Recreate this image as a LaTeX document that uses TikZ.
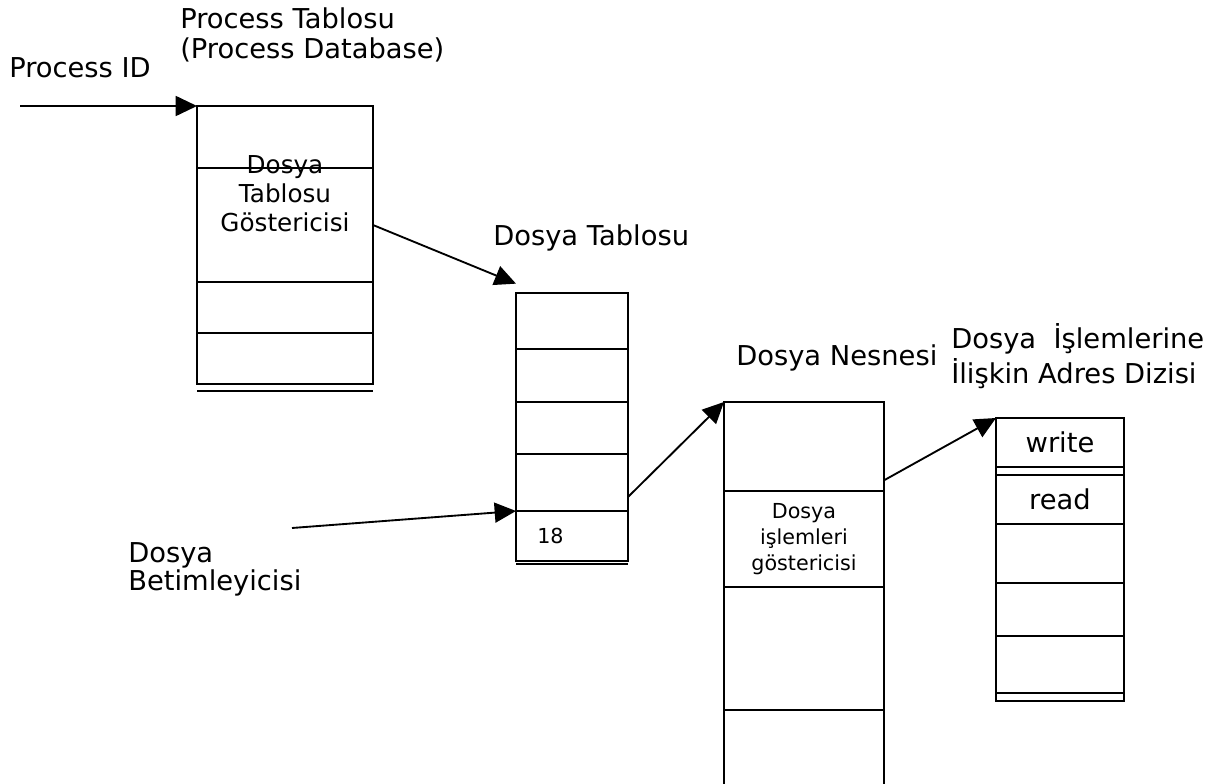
\documentclass[tikz,border=0pt]{standalone}
\usepackage{fontspec}
\setmainfont{DejaVu Sans}
\usepackage{tikz}
\usetikzlibrary{arrows.meta,positioning}
\newcommand{\lblfnt}{\fontsize{20.5}{22.5}\selectfont}
\newcommand{\boxfnt}{\fontsize{18.5}{21.75}\selectfont}
\newcommand{\smlfnt}{\fontsize{15.5}{19.5}\selectfont}
\tikzstyle{plaintext} = [draw=none, fill=none, inner sep=0pt, font=\lblfnt]
\tikzstyle{cell} = [draw, line width=1.5pt, inner sep=0pt, outer sep=0pt, font=\lblfnt, align=center]
\tikzstyle{ptredge} = [draw, line width=1.4pt, -{Triangle[length=16pt, width=15pt]}]

\begin{document}
\begin{tikzpicture}[x=0.75pt, y=-0.75pt]
\useasboundingbox (0,0) rectangle (1218,784);

\node[cell, minimum width=132pt, minimum height=46.5pt, anchor=north west] (proc1) at (197,106) {};
\node[cell, minimum width=132pt, minimum height=85.5pt, below=0pt of proc1] (proc2) {};
\node[cell, minimum width=132pt, minimum height=38.25pt, below=0pt of proc2] (proc3) {};
\node[cell, minimum width=132pt, minimum height=38.25pt, below=0pt of proc3] (proc4) {};
\draw[line width=1.5pt] ([yshift=-5.25pt]proc4.south west) -- ([yshift=-5.25pt]proc4.south east);
\node[plaintext, font=\boxfnt, align=center, anchor=base] (procptr) at (285,232) {Dosya\\Tablosu\\Göstericisi};

\node[cell, minimum width=84pt, minimum height=42pt, anchor=north west] (ftab1) at (516,293) {};
\node[cell, minimum width=84pt, minimum height=39.75pt, below=0pt of ftab1] (ftab2) {};
\node[cell, minimum width=84pt, minimum height=39pt, below=0pt of ftab2] (ftab3) {};
\node[cell, minimum width=84pt, minimum height=42.75pt, below=0pt of ftab3] (ftab4) {};
\node[cell, minimum width=84pt, minimum height=37.5pt, below=0pt of ftab4] (ftab5) {};
\draw[line width=1.5pt] ([yshift=-2pt]ftab5.south west) -- ([yshift=-2pt]ftab5.south east);
\node[plaintext, font=\smlfnt, anchor=base west] (num18) at (537,543) {18};

\node[cell, minimum width=120pt, minimum height=66.75pt, anchor=north west] (obj1) at (724,402) {};
\node[cell, minimum width=120pt, minimum height=72pt, font=\smlfnt, below=0pt of obj1] (obj2) {Dosya\\işlemleri\\göstericisi};
\node[cell, minimum width=120pt, minimum height=92.25pt, below=0pt of obj2] (obj3) {};
\node[cell, minimum width=120pt, minimum height=75pt, below=0pt of obj3] (obj4) {};

\node[cell, minimum width=96pt, minimum height=36.75pt, anchor=north west] (adr1) at (996,418) {write};
\node[cell, minimum width=96pt, minimum height=6pt, below=0pt of adr1] (adr2) {};
\node[cell, minimum width=96pt, minimum height=36.75pt, below=0pt of adr2] (adr3) {read};
\node[cell, minimum width=96pt, minimum height=44.25pt, below=0pt of adr3] (adr4) {};
\node[cell, minimum width=96pt, minimum height=39.75pt, below=0pt of adr4] (adr5) {};
\node[cell, minimum width=96pt, minimum height=42.75pt, below=0pt of adr5] (adr6) {};
\node[cell, minimum width=96pt, minimum height=6pt, below=0pt of adr6] (adr7) {};

\node[plaintext, anchor=base west] (procid) at (9,78) {Process ID};
\node[plaintext, align=left, anchor=base west] (proctitle) at (180,59) {Process Tablosu\\(Process Database)};
\node[plaintext, anchor=base west] (ftabtitle) at (493,246) {Dosya Tablosu};
\node[plaintext, font=\fontsize{20.5}{21}\selectfont, align=left, anchor=base west] (fdesc) at (128,590) {Dosya\\Betimleyicisi};
\node[plaintext, anchor=base west] (objtitle) at (736,366) {Dosya Nesnesi};
\node[plaintext, font=\fontsize{20.5}{26}\selectfont, align=left, anchor=base west] (adrtitle) at (951,383) {Dosya\ \ İşlemlerine\\İlişkin Adres Dizisi};

\coordinate (pidtail) at (20,106);
\coordinate (fdtail) at (292,528);

\draw[ptredge] (pidtail) -- (proc1.north west);
\draw[ptredge] (proc2.east) -- ([yshift=7pt]ftab1.north west);
\draw[ptredge] (fdtail) -- (ftab5.north west);
\draw[ptredge] ([yshift=10.5pt]ftab4.south east) -- (obj1.north west);
\draw[ptredge] ([yshift=8pt]obj1.south east) -- (adr1.north west);

\end{tikzpicture}
\end{document}
